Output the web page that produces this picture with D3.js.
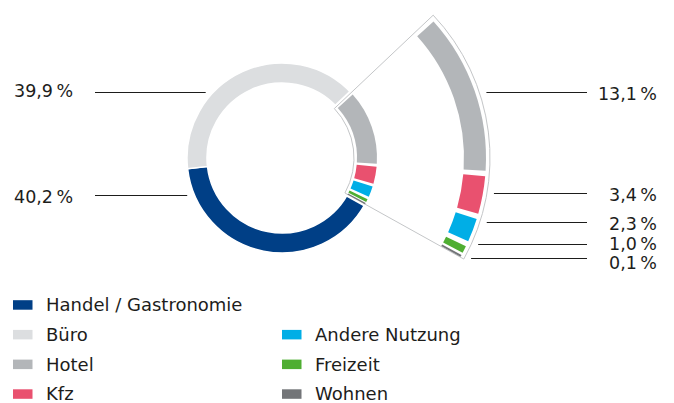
<!DOCTYPE html>
<html lang="de">
<head>
  <meta charset="UTF-8">
  <title>Nutzungsarten</title>
  <script src="https://d3js.org/d3.v7.min.js"></script>
  <style>
    body { margin: 0; background: #fff; }
    svg text { font-family: "DejaVu Sans", sans-serif; font-size: 17.5px; fill: #1d1d1b; }
    svg .legend text { font-size: 18px; }
  </style>
</head>
<body>
  <div id="chart"></div>
  <script>
    // data
    const categories = ["Handel / Gastronomie", "Büro", "Hotel", "Kfz", "Andere Nutzung", "Freizeit", "Wohnen"];
    const shares = [40.2, 39.9, 13.1, 3.4, 2.3, 1.0, 0.1];
    const palette = ["#003f86", "#dcdee0", "#b3b6b9", "#e9516f", "#00aee6", "#4fae32", "#737578"];
    const detail = ["Hotel", "Kfz", "Andere Nutzung", "Freizeit", "Wohnen"];
    // clockwise order around the ring, starting at the detail group
    const ringOrder = ["Hotel", "Kfz", "Andere Nutzung", "Freizeit", "Wohnen", "Handel / Gastronomie", "Büro"];

    // layout
    const width = 674, height = 403;
    const cx = 282, cy = 158;
    const small = { inner: 75, outer: 95 };
    const big = { inner: 182, outer: 204 };
    const frame = { inner: 72, outer: 208 };
    const startDeg = 47.2;
    // label rows: offset of leader line and text centre from cy
    const labelPos = {
      "Büro": { side: "left", line: -65.7, text: -67.3 },
      "Handel / Gastronomie": { side: "left", line: 37.3, text: 38.7 },
      "Hotel": { side: "right", line: -65.7, text: -64 },
      "Kfz": { side: "right", line: 34.7, text: 37 },
      "Andere Nutzung": { side: "right", line: 64.3, text: 66 },
      "Freizeit": { side: "right", line: 85.7, text: 85.5 },
      "Wohnen": { side: "right", line: 99.7, text: 104.5 }
    };
    const legendSlots = [[0, 0], [0, 1], [0, 2], [0, 3], [1, 1], [1, 2], [1, 3]];

    const items = categories.map((c, i) => ({ name: c, value: shares[i], color: palette[i] }));

    const svg = d3.select("#chart").append("svg")
      .attr("width", width)
      .attr("height", height);

    const g = svg.append("g").attr("transform", `translate(${cx},${cy})`);

    const a0 = startDeg * Math.PI / 180;
    const pie = d3.pie()
      .value(d => d.value)
      .sort((a, b) => ringOrder.indexOf(a.name) - ringOrder.indexOf(b.name))
      .startAngle(a0)
      .endAngle(a0 + 2 * Math.PI);
    const slices = pie(items);
    const detailSlices = slices.filter(s => detail.includes(s.data.name));
    const dStart = d3.min(detailSlices, s => s.startAngle);
    const dEnd = d3.max(detailSlices, s => s.endAngle);

    // inset each slice by a pixel gap, keeping a minimum width
    function inset(s, r, gap, minW) {
      let s0 = s.startAngle + gap / r, s1 = s.endAngle - gap / r;
      if (s1 - s0 < minW / r) {
        const m = (s.startAngle + s.endAngle) / 2;
        s0 = m - minW / r / 2; s1 = m + minW / r / 2;
      }
      return { startAngle: s0, endAngle: s1 };
    }

    // main ring (outside detail group)
    const arcSmall = d3.arc().innerRadius(small.inner).outerRadius(small.outer);
    g.selectAll("path.main")
      .data(slices.filter(s => !detail.includes(s.data.name)))
      .join("path")
      .attr("class", "main")
      .attr("d", arcSmall)
      .attr("fill", d => d.data.color)
      .attr("stroke", "#fff")
      .attr("stroke-width", 1.5);

    // frame linking the detail group to its enlarged view
    const frameArc = d3.arc()
      .innerRadius(frame.inner).outerRadius(frame.outer)
      .startAngle(dStart - 0.01).endAngle(dEnd + 0.004);
    g.append("path").attr("d", frameArc())
      .attr("fill", "#fff").attr("stroke", "#fff").attr("stroke-width", 5);
    g.append("path").attr("d", frameArc())
      .attr("fill", "#fff").attr("stroke", "#c4c6c8").attr("stroke-width", 1);

    // detail slices in the small ring
    g.selectAll("path.detail-small")
      .data(detailSlices)
      .join("path")
      .attr("class", "detail-small")
      .attr("d", d => arcSmall(inset(d, (small.inner + small.outer) / 2, 1.3, 1.2)))
      .attr("fill", d => d.data.color);

    // enlarged detail ring
    const arcBig = d3.arc().innerRadius(big.inner).outerRadius(big.outer);
    g.selectAll("path.detail-big")
      .data(detailSlices)
      .join("path")
      .attr("class", "detail-big")
      .attr("d", d => arcBig(inset(d, (big.inner + big.outer) / 2, 2.6, 2)))
      .attr("fill", d => d.data.color);

    // labels with leader lines
    const fmt = v => d3.format(".1f")(v).replace(".", ",") + "\u2009%";
    const labels = svg.append("g");
    items.forEach(d => {
      const p = labelPos[d.name];
      const ly = Math.round(cy + p.line) + 0.5;
      const dy = ly - cy;
      let x1, x2, tx, anchor;
      if (p.side === "left") {
        x1 = 95;
        x2 = cx - Math.sqrt(small.outer * small.outer - dy * dy) - 7.5;
        tx = 14; anchor = "start";
      } else {
        x1 = cx + Math.sqrt(frame.outer * frame.outer - dy * dy) + 7;
        x2 = 587;
        tx = 657; anchor = "end";
      }
      labels.append("line")
        .attr("x1", x1).attr("x2", x2).attr("y1", ly).attr("y2", ly)
        .attr("stroke", "#1d1d1b").attr("stroke-width", 1);
      labels.append("text")
        .attr("x", tx).attr("y", cy + p.text)
        .attr("dy", "0.36em")
        .attr("text-anchor", anchor)
        .text(fmt(d.value));
    });

    // legend
    const colX = [13, 282], rowY = d3.range(4).map(i => 305 + i * 29.7);
    const legend = svg.append("g").attr("class", "legend");
    items.forEach((d, i) => {
      const [c, r] = legendSlots[i];
      const row = legend.append("g").attr("transform", `translate(${colX[c]},${rowY[r]})`);
      row.append("rect").attr("x", 0).attr("y", -4.8).attr("width", 19.5).attr("height", 9.5)
        .attr("fill", d.color);
      row.append("text").attr("x", 33).attr("dy", "0.35em").text(d.name);
    });
  </script>
</body>
</html>
